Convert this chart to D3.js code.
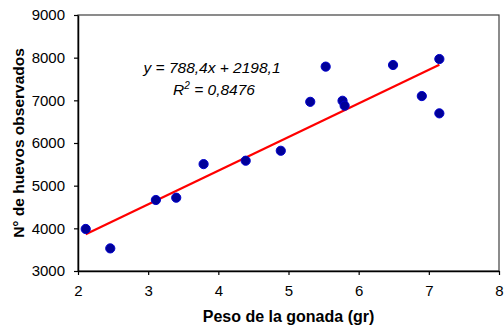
<!DOCTYPE html>
<html>
<head>
<meta charset="utf-8">
<script src="https://cdn.jsdelivr.net/npm/d3@7"></script>
<style>
  html, body { margin: 0; padding: 0; background: #ffffff; }
  svg { display: block; font-family: "Liberation Sans", Arial, sans-serif; }
</style>
</head>
<body>
<svg id="chart" width="504" height="329"></svg>
<script>
// Gonad weight (g) and observed egg count
const pesoGonada = [2.11, 2.46, 3.11, 3.40, 3.79, 4.39, 4.89, 5.31, 5.53, 5.77, 5.80, 6.49, 6.90, 7.15, 7.15];
const huevos     = [3985, 3530, 4664, 4718, 5505, 5585, 5818, 6965, 7790, 6990, 6875, 7828, 7100, 7968, 6695];

// Linear trend line
const slope = 788.4;
const intercept = 2198.1;
const r2 = "0,8476";

const xTicks = [2, 3, 4, 5, 6, 7, 8];
const yTicks = [3000, 4000, 5000, 6000, 7000, 8000, 9000];

const svg = d3.select("#chart");
const plotLeft = 78, plotRight = 499, plotTop = 15, plotBottom = 271;

const x = d3.scaleLinear().domain([2, 8]).range([plotLeft, plotRight]);
const y = d3.scaleLinear().domain([3000, 9000]).range([plotBottom, plotTop]);

// Plot frame
svg.append("rect")
  .attr("x", plotLeft).attr("y", plotTop)
  .attr("width", plotRight - plotLeft).attr("height", plotBottom - plotTop)
  .attr("fill", "none").attr("stroke", "#404040").attr("stroke-width", 1.2);

// Axes
const xAxis = svg.append("g")
  .attr("transform", `translate(0,${plotBottom})`)
  .call(d3.axisBottom(x).tickValues(xTicks).tickSize(4).tickSizeOuter(0).tickPadding(10)
    .tickFormat(d3.format("d")));
const yAxis = svg.append("g")
  .attr("transform", `translate(${plotLeft},0)`)
  .call(d3.axisLeft(y).tickValues(yTicks).tickSize(4).tickSizeOuter(0).tickPadding(9)
    .tickFormat(d3.format("d")));

[xAxis, yAxis].forEach(g => {
  g.select(".domain").attr("stroke", "#000").attr("stroke-width", 1.5);
  g.selectAll(".tick line").attr("stroke", "#000").attr("stroke-width", 1.2);
  g.selectAll(".tick text").attr("fill", "#000")
    .style("font-size", "15px").style("font-family", "'Liberation Sans', Arial, sans-serif");
});

// Trend line across the observed range
const xMin = d3.min(pesoGonada), xMax = d3.max(pesoGonada);
svg.append("line")
  .attr("x1", x(xMin)).attr("y1", y(slope * xMin + intercept))
  .attr("x2", x(xMax)).attr("y2", y(slope * xMax + intercept))
  .attr("stroke", "#ff0000").attr("stroke-width", 2.2);

// Observations
svg.append("g").selectAll("circle")
  .data(pesoGonada.map((v, i) => [v, huevos[i]]))
  .join("circle")
  .attr("cx", d => x(d[0]))
  .attr("cy", d => y(d[1]))
  .attr("r", 4.6)
  .attr("fill", "#000099")
  .attr("stroke", "#0000cc")
  .attr("stroke-width", 1);

// Regression equation
const eq = svg.append("g").style("font-style", "italic").style("font-size", "15.5px").attr("fill", "#000");
eq.append("text")
  .attr("x", 212).attr("y", 72.5).attr("text-anchor", "middle")
  .text("y = " + String(slope).replace(".", ",") + "x + " + String(intercept).replace(".", ","));
const r2Text = eq.append("text")
  .attr("x", 214).attr("y", 95).attr("text-anchor", "middle");
r2Text.append("tspan").text("R");
r2Text.append("tspan").attr("dy", -6).style("font-size", "10px").text("2");
r2Text.append("tspan").attr("dy", 6).text(" = " + r2);

// Axis titles
svg.append("text")
  .attr("x", 288.5).attr("y", 322).attr("text-anchor", "middle")
  .style("font-weight", "bold").style("font-size", "16px")
  .text("Peso de la gonada (gr)");
svg.append("text")
  .attr("transform", "translate(24,143) rotate(-90)")
  .attr("text-anchor", "middle")
  .style("font-weight", "bold").style("font-size", "15.5px")
  .text("N° de huevos observados");
</script>
</body>
</html>
